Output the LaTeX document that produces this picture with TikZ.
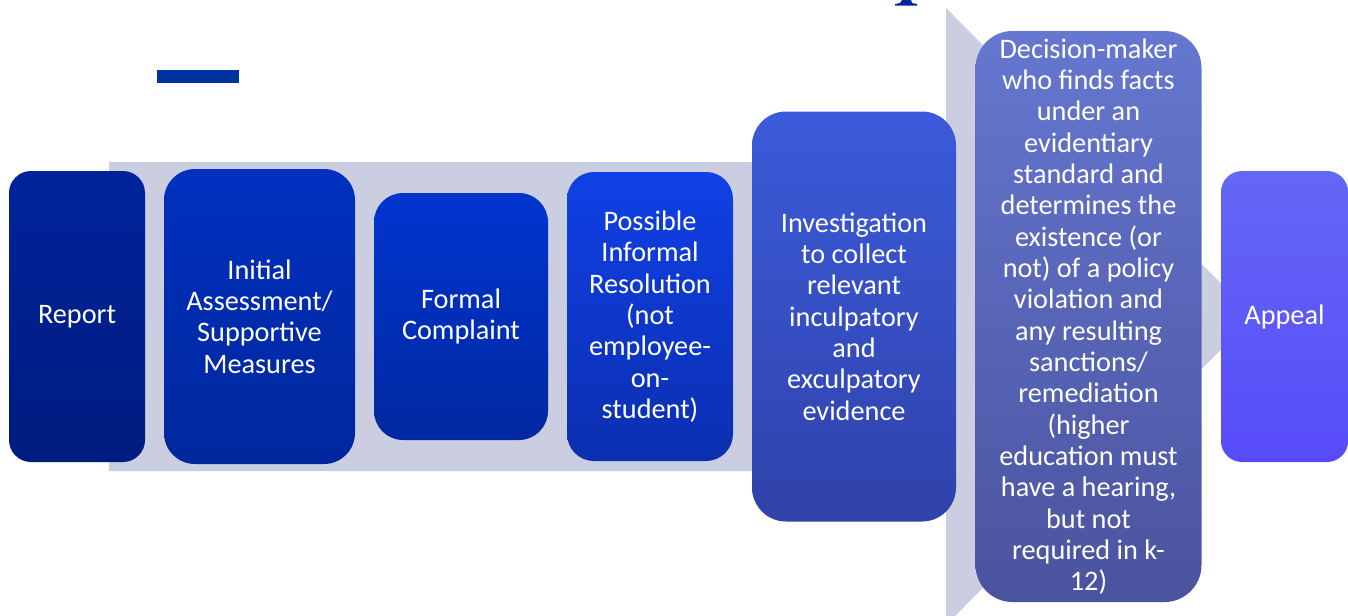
\documentclass[tikz,border=0pt]{standalone}
\usepackage{fontspec}
\setmainfont{Carlito}
\newlength{\upx}
\setlength{\upx}{0.75pt}
\definecolor{arrowgrey}{HTML}{CBCEE0}
\definecolor{barblue}{HTML}{0033A0}
\definecolor{titlenavy}{HTML}{00249C}
\definecolor{cAt}{HTML}{00239C}\definecolor{cAb}{HTML}{001C80}
\definecolor{cBt}{HTML}{0030C0}\definecolor{cBb}{HTML}{00279C}
\definecolor{cCt}{HTML}{0035D0}\definecolor{cCb}{HTML}{0028A0}
\definecolor{cDt}{HTML}{1040E6}\definecolor{cDb}{HTML}{0C2FB0}
\definecolor{cEt}{HTML}{3B5BDB}\definecolor{cEb}{HTML}{3042AA}
\definecolor{cFt}{HTML}{6677D0}\definecolor{cFb}{HTML}{4A539E}
\definecolor{cGt}{HTML}{6467F5}\definecolor{cGb}{HTML}{574BF9}
\tikzset{
  stagebox/.style={rectangle, inner sep=0pt, align=center, text=white,
    font=\fontsize{21.2}{23.5}\selectfont},
}
\begin{document}
\begin{tikzpicture}[x=0.75pt,y=-0.75pt]
\clip (0,0) rectangle (1348,615);
\fill[white] (0,0) rectangle (1348,615);
% title remnants
\fill[barblue] (157,70) rectangle (239,83);
\fill[titlenavy] (902,0) -- (911,0) -- (912,3) -- (917,4) -- (917,5.5) -- (895,5.5) -- (895,4) -- (900,3) -- cycle;
% big background arrow
\fill[arrowgrey] (109,162) -- (946,162) -- (946,8) -- (1254,316.5) -- (946,625) -- (946,471) -- (109,471) -- cycle;
% stages
\node[stagebox, minimum width=136\upx, minimum height=291\upx, rounded corners=22\upx, top color=cAt, bottom color=cAb] (report) at (77,316.5) {Report};
\node[stagebox, minimum width=191\upx, minimum height=295\upx, rounded corners=31\upx, top color=cBt, bottom color=cBb] (initial) at (259.5,316.5) {Initial\\Assessment/\\Supportive\\Measures};
\node[stagebox, minimum width=174\upx, minimum height=247\upx, rounded corners=29\upx, top color=cCt, bottom color=cCb] (formal) at (461,316.5) {Formal\\Complaint};
\node[stagebox, minimum width=166\upx, minimum height=289\upx, rounded corners=27\upx, top color=cDt, bottom color=cDb] (informal) at (650,316.5) {Possible\\Informal\\Resolution\\(not\\employee-\\on-\\student)};
\node[stagebox, minimum width=204\upx, minimum height=410\upx, rounded corners=34\upx, top color=cEt, bottom color=cEb] (investigation) at (854,316.5) {Investigation\\to collect\\relevant\\inculpatory\\and\\exculpatory\\evidence};
\node[stagebox, minimum width=226\upx, minimum height=571\upx, rounded corners=37\upx, top color=cFt, bottom color=cFb] (decision) at (1088.5,316.5) {Decision-maker\\who finds facts\\under an\\evidentiary\\standard and\\determines the\\existence (or\\not) of a policy\\violation and\\any resulting\\sanctions/\\remediation\\(higher\\education must\\have a hearing,\\but not\\required in k-\\12)};
\node[stagebox, minimum width=127\upx, minimum height=291\upx, rounded corners=21\upx, top color=cGt, bottom color=cGb] (appeal) at (1284.5,316.5) {Appeal};
\end{tikzpicture}
\end{document}
